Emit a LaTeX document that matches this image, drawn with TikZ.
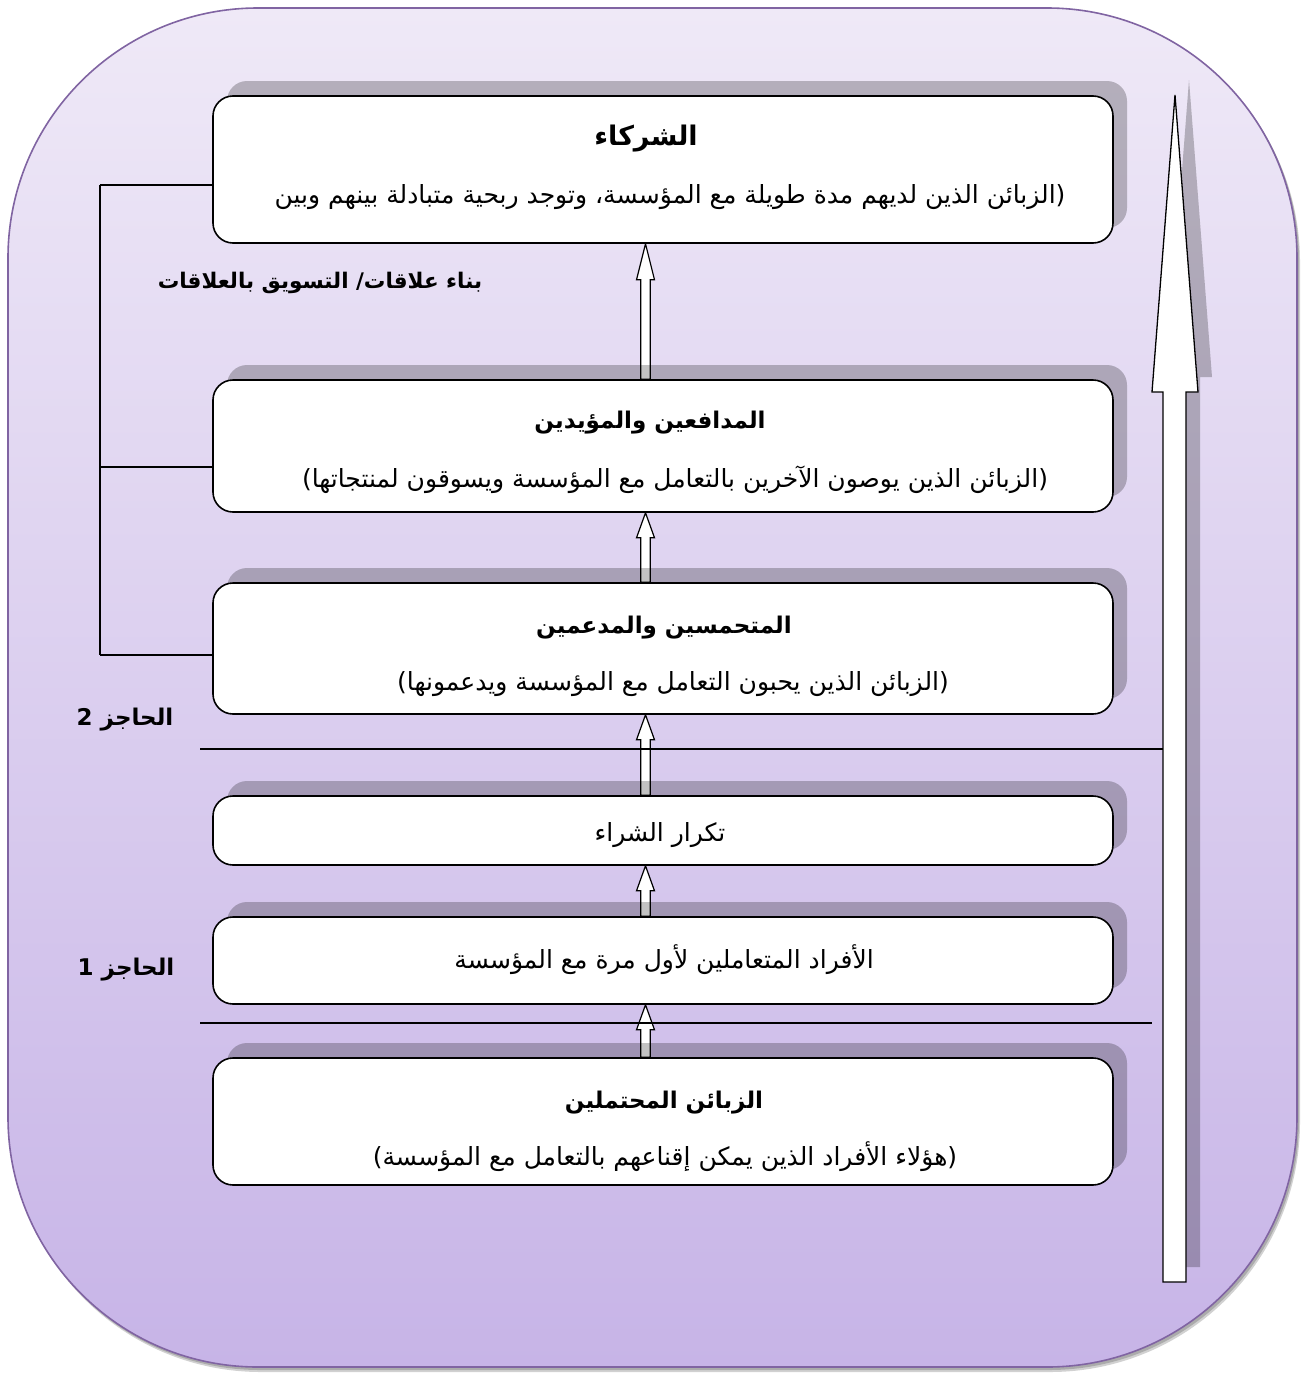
\documentclass[tikz,border=0pt]{standalone}
\usepackage{fontspec}
\usetikzlibrary{calc,shadows}
\TeXXeTstate=1
\newfontfamily\arabicfont[Script=Arabic]{DejaVu Sans}
\pgfdeclarelayer{bottom}
\pgfdeclarelayer{back}
\pgfsetlayers{bottom,back,main}

\definecolor{frametop}{RGB}{239,233,247}
\definecolor{framebot}{RGB}{199,180,231}
\definecolor{frameline}{RGB}{128,100,162}

\tikzset{
  stagebox/.style={draw=black, line width=1.6pt, fill=white, rounded corners=20pt,
    inner sep=0pt, minimum width=900pt,
    drop shadow={shadow xshift=14pt, shadow yshift=15pt, fill=black, opacity=0.24}},
  titletext/.style={inner sep=0pt, font=\arabicfont\bfseries\fontsize{23}{28}\selectfont},
  bodytext/.style={inner sep=0pt, font=\arabicfont\fontsize{25}{30}\selectfont},
  sidetext/.style={inner sep=0pt, font=\arabicfont\bfseries\fontsize{21.5}{26}\selectfont},
  bartext/.style={inner sep=0pt, font=\arabicfont\bfseries\fontsize{23}{28}\selectfont},
  hollow/.style={draw=black, line width=1.2pt, fill=white},
  thinline/.style={draw=black, line width=1.3pt},
  bigarrow/.style={draw=black, line width=1.3pt, fill=white},
}

% upward hollow block arrow from the top of one box to the bottom of the box above,
% set a little left of the box centre
\newcommand{\stepup}[3]{%
  \path[hollow] let \p1=(#1.north), \p2=(#2.south), \n1={\x2-17.5pt} in
    (\n1-4.7pt,\y1) -- (\n1-4.7pt,\y2-#3) -- (\n1-9pt,\y2-#3) -- (\n1,\y2)
    -- (\n1+9pt,\y2-#3) -- (\n1+4.7pt,\y2-#3) -- (\n1+4.7pt,\y1) -- cycle;}

\begin{document}
\begin{tikzpicture}[x=1pt,y=-1pt]
\useasboundingbox (0,0) rectangle (1305,1376);

% outer frame with its soft shadow
\begin{pgfonlayer}{bottom}
  \fill[black, opacity=0.18, rounded corners=250pt] (11,12) rectangle (1300,1372);
  \fill[black, opacity=0.18, rounded corners=250pt] (10,10) rectangle (1299,1370);
  \path[draw=frameline, line width=1.6pt, top color=frametop, bottom color=framebot,
        rounded corners=250pt] (8,8) rectangle (1297,1367);
\end{pgfonlayer}

% stages
\node[stagebox, minimum height=147pt] (b1) at (663,169.5) {};
\node[stagebox, minimum height=132pt] (b2) at (663,446) {};
\node[stagebox, minimum height=131pt] (b3) at (663,648.5) {};
\node[stagebox, minimum height=69pt]  (b4) at (663,830.5) {};
\node[stagebox, minimum height=87pt]  (b5) at (663,960.5) {};
\node[stagebox, minimum height=127pt] (b6) at (663,1121.5) {};

\node[titletext, font=\arabicfont\bfseries\fontsize{27}{32}\selectfont] (t1) at (646,139) {\beginR الشركاء\endR};
\node[bodytext]  (s1) at (670,197) {\beginR (الزبائن الذين لديهم مدة طويلة مع المؤسسة، وتوجد ربحية متبادلة بينهم وبين\endR};
\node[titletext] (t2) at (650,423) {\beginR المدافعين والمؤيدين\endR};
\node[bodytext]  (s2) at (675,480) {\beginR (الزبائن الذين يوصون الآخرين بالتعامل مع المؤسسة ويسوقون لمنتجاتها)\endR};
\node[titletext] (t3) at (664,628) {\beginR المتحمسين والمدعمين\endR};
\node[bodytext]  (s3) at (673,684) {\beginR (الزبائن الذين يحبون التعامل مع المؤسسة ويدعمونها)\endR};
\node[bodytext]  (s4) at (660,835) {\beginR تكرار الشراء\endR};
\node[bodytext]  (s5) at (664,960) {\beginR الأفراد المتعاملين لأول مرة مع المؤسسة\endR};
\node[titletext] (t6) at (664,1103) {\beginR الزبائن المحتملين\endR};
\node[bodytext]  (s6) at (665,1157) {\beginR (هؤلاء الأفراد الذين يمكن إقناعهم بالتعامل مع المؤسسة)\endR};

% side labels
\node[sidetext] (rel)  at (320,283) {\beginR بناء علاقات/ التسويق بالعلاقات\endR};
\node[bartext]  (bar2) at (125,720) {\beginR الحاجز 2\endR};
\node[bartext]  (bar1) at (126,970) {\beginR الحاجز 1\endR};

% overall growth arrow with its shadow
\fill[black, opacity=0.24] (1177,1267) -- (1177,377) -- (1166,377) -- (1189,80) -- (1212,377)
  -- (1200,377) -- (1200,1267) -- cycle;
\path[bigarrow] (1163,1282) -- (1163,392) -- (1152,392) -- (1175,95) -- (1198,392)
  -- (1186,392) -- (1186,1282) -- cycle;
\coordinate (shaftA) at (1163,749);
\coordinate (shaftB) at (1152,1023);

\begin{pgfonlayer}{back}
  % steps between the stages
  \stepup{b2}{b1}{36pt}
  \stepup{b3}{b2}{25pt}
  \stepup{b4}{b3}{25pt}
  \stepup{b5}{b4}{25pt}
  \stepup{b6}{b5}{25pt}
  % the two barriers
  \coordinate (w2) at (200,749);
  \coordinate (w1) at (200,1023);
  \draw[thinline] (w2) -- (shaftA);
  \draw[thinline] (w1) -- (shaftB);
  % bracket joining the relationship stages
  \coordinate (k1) at (100,185);
  \coordinate (k2) at (100,467);
  \coordinate (k3) at (100,655);
  \draw[thinline] (k1) -- (k3);
  \draw[thinline] (k1) -- (b1.west |- k1);
  \draw[thinline] (k2) -- (b2.west |- k2);
  \draw[thinline] (k3) -- (b3.west |- k3);
\end{pgfonlayer}
\end{tikzpicture}
\end{document}
